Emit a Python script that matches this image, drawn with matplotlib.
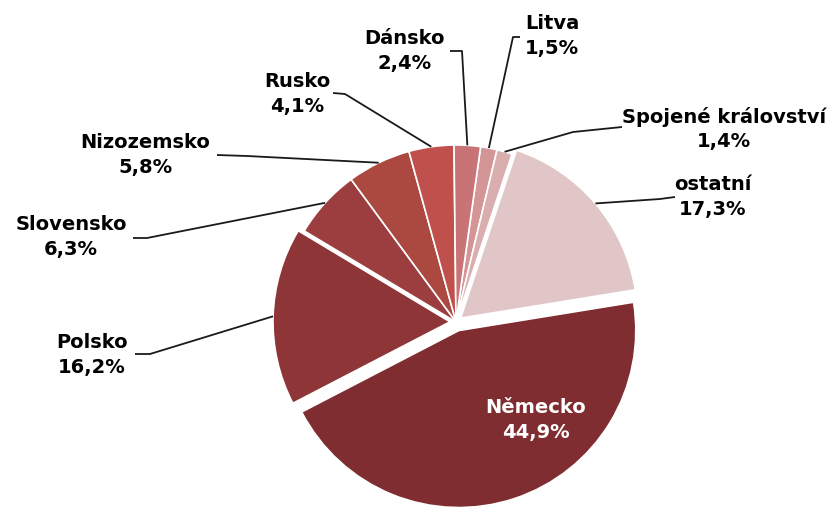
import numpy as np
import matplotlib
matplotlib.use("Agg")
import matplotlib.pyplot as plt

# Data (clockwise order starting near the top)
countries = ["Litva", "Spojené království", "ostatní", "Německo", "Polsko",
             "Slovensko", "Nizozemsko", "Rusko", "Dánsko"]
shares = [1.5, 1.4, 17.3, 44.9, 16.2, 6.3, 5.8, 4.1, 2.4]
colors = ["#D49597", "#DAAEAE", "#E0C6C6", "#7F2D30", "#8E3537",
          "#9C3E40", "#AB4840", "#C0504C", "#C87476"]
explode = [0, 0, 6, 9, 6, 0, 0, 0, 0]

W, H = 831, 510
fig = plt.figure(figsize=(W / 100, H / 100), dpi=100)
ax = fig.add_axes([0, 0, 1, 1])

def py(y):
    return H - y

cx, cy, R = 456, py(323), 177
wedges, _ = ax.pie(shares, colors=colors, explode=explode, startangle=82,
                   counterclock=False, center=(cx, cy), radius=R,
                   wedgeprops=dict(edgecolor="white", linewidth=1.2))
ax.set_xlim(0, W)
ax.set_ylim(0, H)
ax.set_aspect("equal")
ax.axis("off")

def fmt(v):
    return f"{v:.1f}".replace(".", ",") + "%"

# label layout (pixel coords): text centre, leader polyline start points
layout = {
    "Dánsko": ((405, 51), [(450, 52), (462, 52)]),
    "Litva": ((552, 36), [(520, 38), (513, 38)]),
    "Rusko": ((297, 94), [(333, 94), (345, 95)]),
    "Nizozemsko": ((145, 155), [(217, 156), (247, 157)]),
    "Slovensko": ((71, 237), [(133, 239), (147, 239)]),
    "Polsko": ((92, 355), [(135, 355), (150, 355)]),
    "Spojené království": ((724, 129), [(622, 128), (573, 133)]),
    "ostatní": ((713, 197), [(675, 198), (660, 200)]),
}

font = dict(fontsize=14, fontweight="bold", family="DejaVu Sans",
            ha="center", va="center", linespacing=1.35)

for w, name, v in zip(wedges, countries, shares):
    txt = f"{name}\n{fmt(v)}"
    if name == "Německo":
        ax.text(536, py(420), txt, color="white", **font)
        continue
    (tx, ty), pts = layout[name]
    ax.text(tx, py(ty), txt, color="black", **font)
    tm = np.deg2rad((w.theta1 + w.theta2) / 2)
    wx, wy = w.center
    ax_pt = (wx + w.r * np.cos(tm), wy + w.r * np.sin(tm))
    xs = [p[0] for p in pts] + [ax_pt[0]]
    ys = [py(p[1]) for p in pts] + [ax_pt[1]]
    ax.plot(xs, ys, color="#1a1a1a", lw=1.3, solid_capstyle="butt", zorder=3)

fig.savefig("out.png", dpi=100)
